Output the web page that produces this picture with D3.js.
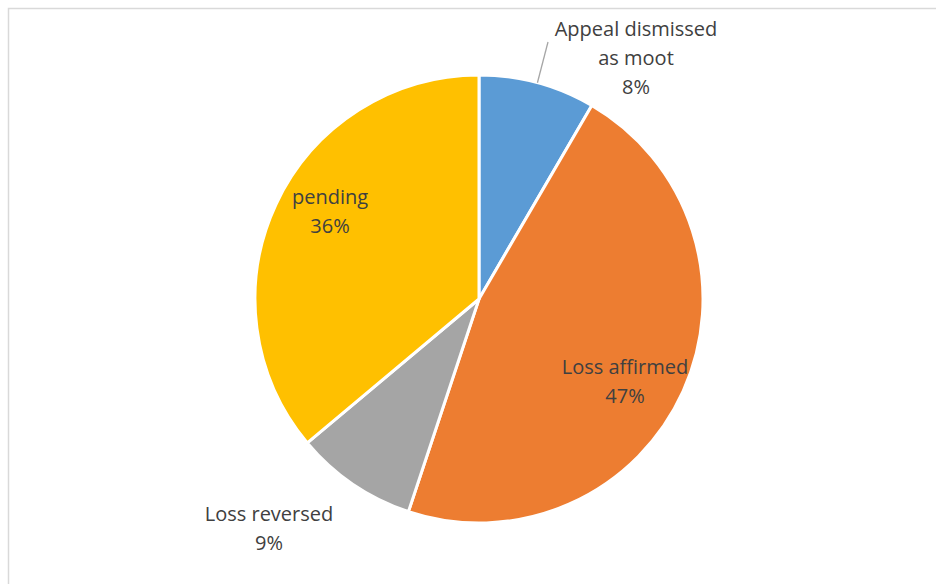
<!DOCTYPE html>
<html>
<head>
<meta charset="utf-8">
<script src="https://cdn.jsdelivr.net/npm/d3@7"></script>
<style>
  body { margin: 0; background: #fff; }
  svg text { font-family: "Open Sans", "Noto Sans", sans-serif; fill: #404040; }
</style>
</head>
<body>
<div id="chart"></div>
<script>
// data (share of cases, percent)
const categories = ["Appeal dismissed as moot", "Loss affirmed", "Loss reversed", "pending"];
const values = [8.4, 46.7, 8.8, 36.1];
const colors = ["#5b9bd5", "#ed7d31", "#a5a5a5", "#ffc000"];

// label lines as Excel wraps them
const labelLines = [["Appeal dismissed", "as moot"], ["Loss affirmed"], ["Loss reversed"], ["pending"]];

const width = 936, height = 584;
const cx = 479, cy = 299, radius = 224;

// label anchor (centre of text block) relative to pie centre
const labelPos = [
  { dx: 157, dy: -241, leader: true },
  { dx: 146, dy: 82 },
  { dx: -210, dy: 229 },
  { dx: -149, dy: -88 }
];

const svg = d3.select("#chart")
  .append("svg")
  .attr("width", width)
  .attr("height", height);

// chart area border
svg.append("rect")
  .attr("x", 8.5).attr("y", 8.5)
  .attr("width", 940).attr("height", 600)
  .attr("fill", "none")
  .attr("stroke", "#d9d9d9")
  .attr("stroke-width", 1.5);

const g = svg.append("g")
  .attr("transform", `translate(${cx},${cy})`);

const pie = d3.pie().sort(null).value(d => d.value);
const data = categories.map((c, i) => ({ name: c, value: values[i], i: i }));
const arcs = pie(data);

const arc = d3.arc().innerRadius(0).outerRadius(radius);

g.selectAll("path")
  .data(arcs)
  .join("path")
  .attr("d", arc)
  .attr("fill", d => colors[d.data.i])
  .attr("stroke", "#fff")
  .attr("stroke-width", 3)
  .attr("stroke-linejoin", "round");

const total = d3.sum(values);
const lineH = 29;

arcs.forEach(function (a) {
  const i = a.data.i;
  const lines = labelLines[i].concat([Math.round(a.data.value / total * 100) + "%"]);
  const p = labelPos[i];
  const top = p.dy - (lines.length - 1) * lineH / 2;

  const t = g.append("text")
    .attr("text-anchor", "middle")
    .style("font-size", "20px");
  lines.forEach(function (l, k) {
    t.append("tspan")
      .attr("x", p.dx)
      .attr("y", top + k * lineH)
      .attr("dy", "0.35em")
      .text(l);
  });

  if (p.leader) {
    const mid = (a.startAngle + a.endAngle) / 2;
    const x0 = Math.sin(mid) * radius, y0 = -Math.cos(mid) * radius;
    g.append("line")
      .attr("x1", x0).attr("y1", y0)
      .attr("x2", p.dx - 88).attr("y2", top + 13)
      .attr("stroke", "#a6a6a6")
      .attr("stroke-width", 1.3);
  }
});
</script>
</body>
</html>
